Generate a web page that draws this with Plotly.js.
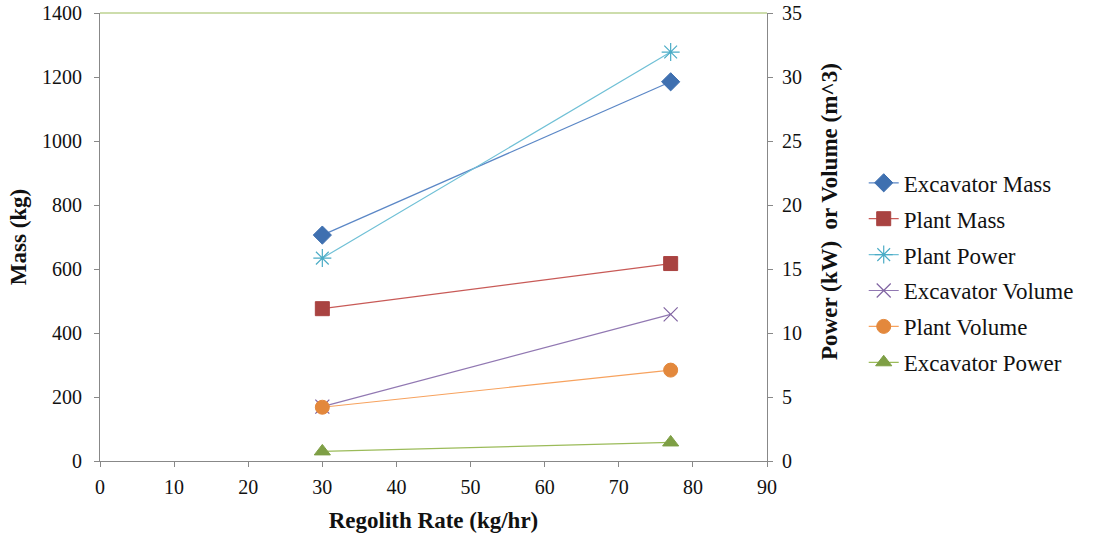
<!DOCTYPE html>
<html><head><meta charset="utf-8">
<script src="https://cdn.plot.ly/plotly-3.0.1.min.js"></script>
<style>html,body{margin:0;padding:0;background:#fff}#chart{width:1094px;height:537px}</style>
</head><body><div id="chart"></div>
<script>
const rates = [30, 77];
const excavatorMass = [706, 1185];
const plantMass = [476, 617];
const plantPower = [15.85, 31.95];
const excavatorVolume = [4.25, 11.45];
const plantVolume = [4.2, 7.1];
const excavatorPower = [0.75, 1.45];
const xTicks = [0,10,20,30,40,50,60,70,80,90];
const yTicks = [0,200,400,600,800,1000,1200,1400];
const y2Ticks = [0,5,10,15,20,25,30,35];

const font = "Liberation Serif, Times New Roman, serif";
function tr(name, y, axis, color, lineColor, sym, size, open) {
  return {
    type: 'scatter', mode: 'lines+markers', name: name, legendgroup: name, x: rates, y: y, yaxis: axis,
    line: {color: lineColor, width: 1.2},
    marker: {symbol: sym, size: size, color: color, line: {color: color, width: open ? 1.2 : 1}}
  };
}
const data = [
  tr('Excavator Mass', excavatorMass, 'y', '#3F70B0', '#5B87C6', 'diamond', 14),
  tr('Plant Mass', plantMass, 'y', '#A94341', '#C85A57', 'square', 14),
  tr('Plant Power', plantPower, 'y2', '#4BACC6', '#70C0D6', 'asterisk-open', 15, true),
  tr('Excavator Volume', excavatorVolume, 'y2', '#8064A2', '#9178B2', 'x-thin-open', 14, true),
  tr('Plant Volume', plantVolume, 'y2', '#E3883C', '#F7A25E', 'circle', 14),
  tr('Excavator Power', excavatorPower, 'y2', '#7E9F45', '#9BBB59', 'triangle-up', 14)
];
const axisCommon = {
  showgrid: false, zeroline: false, showline: true, linecolor: '#888', linewidth: 1,
  ticks: 'outside', ticklen: 5, tickcolor: '#888', tickfont: {family: font, size: 20, color: '#111'}
};
const titleFont = {family: font, size: 23, color: '#111'};
const layout = {
  width: 1094, height: 537,
  margin: {l: 100, r: 327, t: 13, b: 76},
  paper_bgcolor: '#fff', plot_bgcolor: '#fff',
  showlegend: true,
  legend: {x: 1.145, y: 0.42, xanchor: 'left', yanchor: 'middle', traceorder: 'grouped', tracegroupgap: 3,
    font: {family: font, size: 23, color: '#111'}, bgcolor: 'rgba(0,0,0,0)'},
  xaxis: Object.assign({}, axisCommon, {range: [0, 90], tickvals: xTicks, ticklabelstandoff: 3,
    title: {text: '<b>Regolith Rate (kg/hr)</b>', font: titleFont, standoff: 14}}),
  yaxis: Object.assign({}, axisCommon, {range: [0, 1400], tickvals: yTicks, ticklabelstandoff: 8,
    title: {text: '<b>Mass (kg)</b>', font: titleFont, standoff: 8}}),
  yaxis2: Object.assign({}, axisCommon, {range: [0, 35], tickvals: y2Ticks, overlaying: 'y', side: 'right', ticklabelstandoff: 5}),
  annotations: [{text: '<b>Power (kW)  or Volume (m^3)</b>', xref: 'paper', yref: 'paper', x: 1.0945, y: 0.556,
    xanchor: 'center', yanchor: 'middle', textangle: -90, showarrow: false, font: titleFont}],
  shapes: [{type: 'line', xref: 'paper', yref: 'paper', x0: 0, x1: 1, y0: 1, y1: 1, line: {color: '#9BBB59', width: 1}}]
};
Plotly.newPlot('chart', data, layout, {displayModeBar: false, staticPlot: true});
</script></body></html>
